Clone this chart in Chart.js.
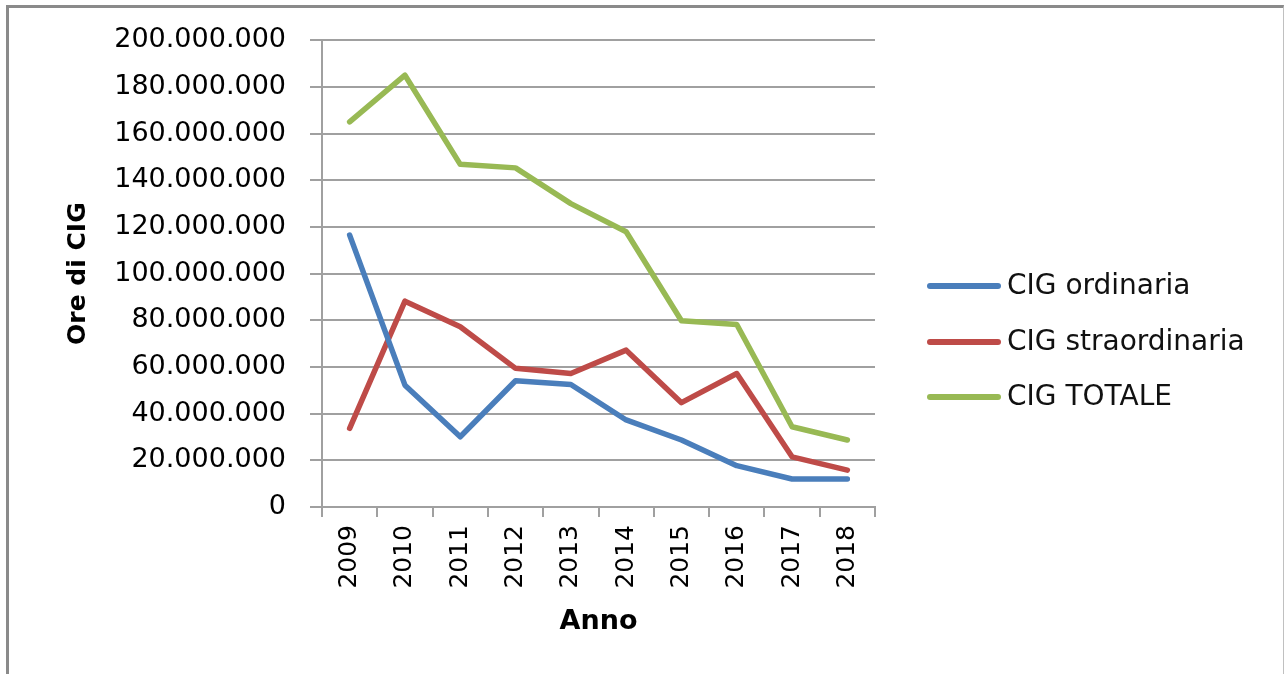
<!DOCTYPE html>
<html>
<head>
<meta charset="utf-8">
<script src="https://cdn.jsdelivr.net/npm/chart.js@4"></script>
<style>
  html, body { margin: 0; padding: 0; background: #fff; }
  #wrap { position: relative; width: 1285px; height: 674px; overflow: hidden; }
  #plotChart { position: absolute; left: 0; top: 0; }
  #frame {
    position: absolute; left: 6px; top: 5px; width: 1274px; height: 700px;
    border-left: 3px solid #8a8a8a; border-top: 3px solid #8a8a8a; border-right: 1px solid #c0c0c0;
    pointer-events: none;
  }
  #legend { position: absolute; left: 927px; top: 266px; font-family: "DejaVu Sans", sans-serif; font-size: 28px; color: #111; }
  .item { position: relative; height: 55.7px; line-height: 40px; }
  .swatch { position: absolute; left: 0; top: 17px; width: 74px; height: 6px; border-radius: 3px; }
  .label { position: absolute; left: 80px; top: -1px; white-space: nowrap; }
</style>
</head>
<body>
<div id="wrap">
  <canvas id="plotChart" width="1285" height="674"></canvas>
  <div id="legend"></div>
  <div id="frame"></div>
</div>
<script>
// Ore di CIG per anno
const years = ["2009", "2010", "2011", "2012", "2013", "2014", "2015", "2016", "2017", "2018"];
const cigOrdinaria = [116500000, 52200000, 30100000, 54100000, 52500000, 37300000, 28700000, 17700000, 12000000, 12000000];
const cigStraordinaria = [33700000, 88200000, 77200000, 59400000, 57200000, 67200000, 44700000, 57200000, 21500000, 15800000];
const cigTotale = [165000000, 185000000, 146800000, 145300000, 130000000, 117900000, 79800000, 78200000, 34400000, 28700000];
const yTicks = [0, 20000000, 40000000, 60000000, 80000000, 100000000, 120000000, 140000000, 160000000, 180000000, 200000000];

const seriesNames = ["CIG ordinaria", "CIG straordinaria", "CIG TOTALE"];
const seriesColors = ["#4a7ebb", "#be4b48", "#98b954"];

// format numbers with dots as thousand separators
function dots(v) {
  return String(Math.round(v)).replace(/\B(?=(\d{3})+(?!\d))/g, ".");
}

const gray = "#a0a0a0";
var ctx = document.getElementById("plotChart").getContext("2d");

const makeSet = (i, data) => ({
  label: seriesNames[i],
  data: data,
  borderColor: seriesColors[i],
  backgroundColor: seriesColors[i],
  borderWidth: 5.5,
  pointRadius: 0,
  tension: 0,
  borderCapStyle: "round",
  borderJoinStyle: "round",
});

var plotChart = new Chart(ctx, {
  type: "line",
  data: {
    labels: years,
    datasets: [makeSet(0, cigOrdinaria), makeSet(1, cigStraordinaria), makeSet(2, cigTotale)],
  },
  options: {
    responsive: false,
    animation: false,
    layout: {
      padding: { left: 63, top: 40, right: 410, bottom: 36 },
    },
    plugins: {
      legend: { display: false },
      tooltip: { enabled: false },
    },
    scales: {
      x: {
        type: "category",
        offset: true,
        afterFit: (scale) => { scale.height = 131; },
        grid: {
          offset: true,
          drawOnChartArea: false,
          drawTicks: true,
          tickLength: 10,
          color: gray,
          lineWidth: 2,
        },
        border: { display: true, color: gray, width: 2 },
        ticks: {
          autoSkip: false,
          maxRotation: 90,
          minRotation: 90,
          padding: 8,
          color: "#000",
          font: { family: "DejaVu Sans", size: 25 },
        },
        title: {
          display: true,
          text: "Anno",
          color: "#000",
          padding: 0,
          font: { family: "DejaVu Sans", size: 27, weight: "bold" },
        },
      },
      y: {
        min: 0,
        max: 200000000,
        afterFit: (scale) => { scale.width = 259; },
        afterBuildTicks: (scale) => {
          scale.ticks = yTicks.map((v) => ({ value: v }));
        },
        grid: {
          color: gray,
          lineWidth: 2,
          tickLength: 12,
        },
        border: { display: true, color: gray, width: 2 },
        ticks: {
          padding: 24,
          color: "#000",
          font: { family: "DejaVu Sans", size: 27 },
          callback: function (value) {
            return dots(value);
          },
        },
        title: {
          display: true,
          text: "Ore di CIG",
          color: "#000",
          padding: 0,
          font: { family: "DejaVu Sans", size: 25, weight: "bold" },
        },
      },
    },
  },
});

// Legend built from the chart's datasets
const legendBox = document.getElementById("legend");
plotChart.data.datasets.forEach((ds) => {
  const item = document.createElement("div");
  item.className = "item";
  const sw = document.createElement("span");
  sw.className = "swatch";
  sw.style.background = ds.borderColor;
  const lb = document.createElement("span");
  lb.className = "label";
  lb.textContent = ds.label;
  item.appendChild(sw);
  item.appendChild(lb);
  legendBox.appendChild(item);
});
</script>
</body>
</html>
